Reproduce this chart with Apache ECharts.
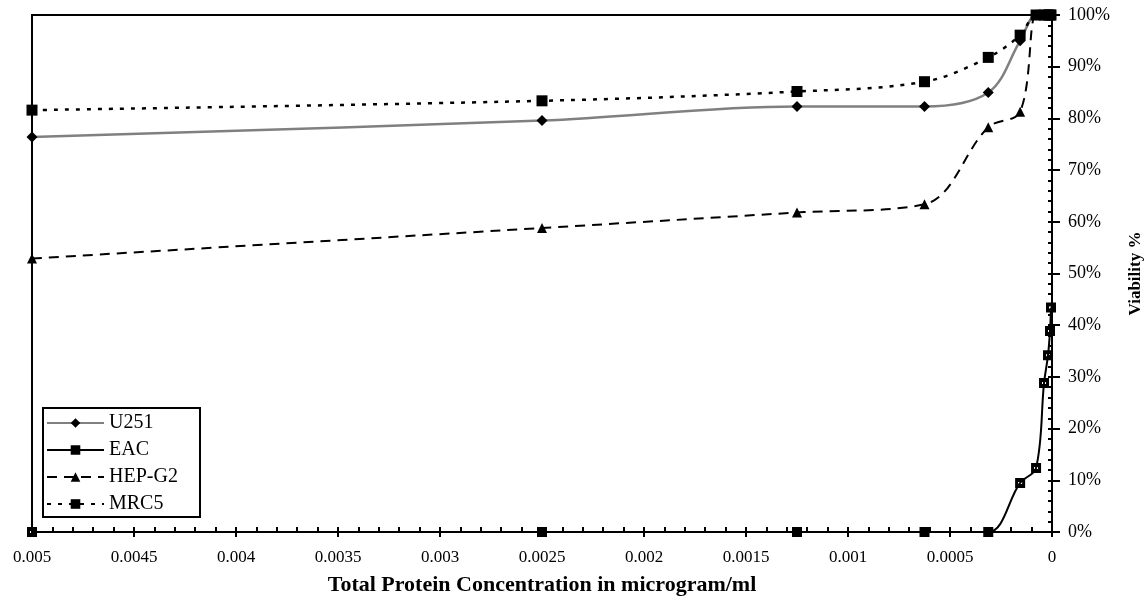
<!DOCTYPE html>
<html>
<head>
<meta charset="utf-8">
<script src="https://cdn.jsdelivr.net/npm/echarts@6/dist/echarts.min.js"></script>
<style>
html,body{margin:0;padding:0;background:#fff;}
#chart{width:1148px;height:597px;}
</style>
</head>
<body>
<div id="chart"></div>
<script>
// Concentrations (microgram/ml)
const concentrations = [0.005, 0.0025, 0.00125, 0.000625, 0.0003125, 0.00015625, 0.000078125, 0.0000390625, 0.00001953125, 0.000009765625, 0.0000048828125];
// Viability %
const u251 = [76.4, 79.6, 82.3, 82.3, 85.0, 95.0, 100, 100, 100, 100, 100];
const eac  = [0, 0, 0, 0, 0, 9.5, 12.4, 28.8, 34.2, 38.9, 43.4];
const hepg2 = [52.9, 58.8, 61.8, 63.4, 78.3, 81.3, 100, 100, 100, 100, 100];
const mrc5 = [81.6, 83.4, 85.2, 87.1, 91.8, 96.1, 100, 100, 100, 100, 100];
const seriesNames = ['U251', 'EAC', 'HEP-G2', 'MRC5'];
// Tick labels
const xTickLabels = ['0', '0.0005', '0.001', '0.0015', '0.002', '0.0025', '0.003', '0.0035', '0.004', '0.0045', '0.005'];
const yTickLabels = ['0%', '10%', '20%', '30%', '40%', '50%', '60%', '70%', '80%', '90%', '100%'];

function pairs(vals) { return concentrations.map((c, i) => [c, vals[i]]); }

const FONT = '"Liberation Serif", "Times New Roman", serif';
const chart = echarts.init(document.getElementById('chart'));

const xCommon = { type: 'value', min: 0, max: 0.005, inverse: true, position: 'bottom', splitLine: { show: false } };
const yCommon = { type: 'value', min: 0, max: 100, position: 'right', splitLine: { show: false } };

chart.setOption({
  animation: false,
  backgroundColor: '#fff',
  grid: { left: 32, right: 96, top: 15, bottom: 65, show: true, borderColor: '#000', borderWidth: 2,
    containLabel: false, outerBoundsMode: 'none' },
  xAxis: [
    Object.assign({}, xCommon, {
      interval: 0.0005,
      axisLine: { show: true, lineStyle: { color: '#000', width: 2 } },
      axisTick: { show: true, inside: false, length: 5, lineStyle: { color: '#000', width: 2 } },
      axisLabel: { show: true, margin: 17, color: '#000', fontFamily: FONT, fontSize: 17,
        formatter: v => xTickLabels[Math.round(v / 0.0005)] },
      name: 'Total Protein Concentration in microgram/ml',
      nameLocation: 'middle', nameGap: 42,
      nameTextStyle: { color: '#000', fontFamily: FONT, fontSize: 22, fontWeight: 'bold' }
    }),
    Object.assign({}, xCommon, {
      interval: 0.0001,
      axisLine: { show: false },
      axisTick: { show: true, inside: true, length: 5, lineStyle: { color: '#000', width: 2 } },
      axisLabel: { show: false }
    })
  ],
  yAxis: [
    Object.assign({}, yCommon, {
      interval: 10,
      axisLine: { show: true, lineStyle: { color: '#000', width: 2 } },
      axisTick: { show: true, inside: false, length: 8, lineStyle: { color: '#000', width: 2 } },
      axisLabel: { show: true, margin: 16, color: '#000', fontFamily: FONT, fontSize: 18,
        formatter: v => yTickLabels[Math.round(v / 10)] },
      name: 'Viability %', nameLocation: 'middle', nameRotate: 90, nameGap: 75,
      nameTextStyle: { color: '#000', fontFamily: FONT, fontSize: 17, fontWeight: 'bold' }
    }),
    Object.assign({}, yCommon, {
      interval: 2,
      axisLine: { show: false },
      axisTick: { show: true, inside: true, length: 4, lineStyle: { color: '#000', width: 2 } },
      axisLabel: { show: false }
    })
  ],
  graphic: [{
    type: 'rect', z: 10,
    shape: { x: 43, y: 408, width: 157, height: 109 },
    style: { fill: '#fff', stroke: '#000', lineWidth: 2 }
  }],
  legend: {
    orient: 'vertical', left: 46, top: 413, padding: 0, z: 11,
    itemWidth: 57, itemHeight: 12, itemGap: 7,
    textStyle: { color: '#000', fontFamily: FONT, fontSize: 20, lineHeight: 20 },
    data: seriesNames
  },
  series: [
    { name: seriesNames[0], type: 'line', xAxisIndex: 0, yAxisIndex: 0, data: pairs(u251), smooth: 0.35, clip: false,
      symbol: 'diamond', symbolSize: 11, itemStyle: { color: '#000' },
      lineStyle: { color: '#808080', width: 2.5, type: 'solid' } },
    { name: seriesNames[1], type: 'line', xAxisIndex: 0, yAxisIndex: 0, data: pairs(eac), smooth: 0.35, clip: false,
      symbol: 'path://M0,0H10V10H0Z M3,4V6H7V4Z', symbolSize: 10, itemStyle: { color: '#000' },
      lineStyle: { color: '#000', width: 2, type: 'solid' } },
    { name: seriesNames[2], type: 'line', xAxisIndex: 0, yAxisIndex: 0, data: pairs(hepg2), smooth: 0.35, clip: false,
      symbol: 'triangle', symbolSize: 10, itemStyle: { color: '#000' },
      lineStyle: { color: '#000', width: 2, type: [10, 7] } },
    { name: seriesNames[3], type: 'line', xAxisIndex: 0, yAxisIndex: 0, data: pairs(mrc5), smooth: 0.35, clip: false,
      symbol: 'rect', symbolSize: 11, itemStyle: { color: '#000' },
      lineStyle: { color: '#000', width: 2.5, type: [4, 7] } }
  ]
});
</script>
</body>
</html>
